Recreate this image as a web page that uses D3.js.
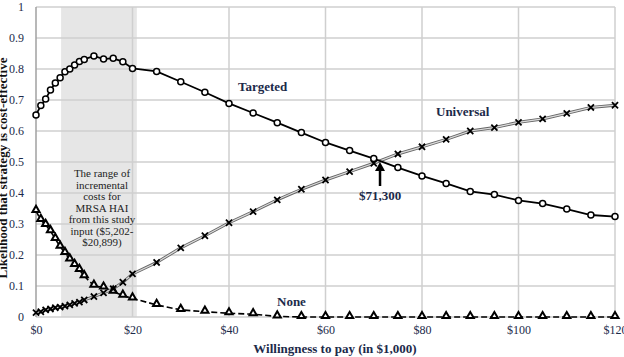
<!DOCTYPE html>
<html>
<head>
<meta charset="utf-8">
<script src="https://cdn.jsdelivr.net/npm/d3@7"></script>
<style>
  html, body { margin: 0; padding: 0; background: #fff; overflow: hidden; }
  svg { display: block; }
  svg text { font-family: "Liberation Serif", "DejaVu Serif", serif !important; }
</style>
</head>
<body>
<script>
// willingness to pay, in $1,000
const wtp = [0, 1, 2, 3, 4, 5, 6, 7, 8, 9, 10, 12, 14, 16, 18, 20,
  25, 30, 35, 40, 45, 50, 55, 60, 65, 70, 75, 80, 85, 90, 95, 100, 105, 110, 115, 120];

const targeted = [0.652, 0.682, 0.703, 0.732, 0.755, 0.772, 0.791, 0.800, 0.813, 0.824, 0.831, 0.842, 0.832, 0.835, 0.823, 0.802,
  0.792, 0.759, 0.725, 0.689, 0.658, 0.627, 0.595, 0.563, 0.537, 0.511, 0.482, 0.455, 0.431, 0.405, 0.395, 0.376, 0.366, 0.348, 0.329, 0.324];

const universal = [0.014, 0.017, 0.023, 0.026, 0.030, 0.032, 0.035, 0.039, 0.044, 0.048, 0.055, 0.066, 0.078, 0.091, 0.112, 0.139,
  0.176, 0.223, 0.262, 0.304, 0.340, 0.378, 0.412, 0.442, 0.469, 0.496, 0.526, 0.549, 0.573, 0.600, 0.611, 0.628, 0.639, 0.657, 0.676, 0.683];

const none = [0.342, 0.313, 0.297, 0.277, 0.252, 0.227, 0.207, 0.186, 0.168, 0.152, 0.132, 0.101, 0.095, 0.082, 0.069, 0.060,
  0.039, 0.023, 0.017, 0.012, 0.009, 0.002, 0, 0, 0, 0, 0, 0, 0, 0, 0, 0, 0, 0, 0, 0];

const xTicks = [0, 20, 40, 60, 80, 100, 120];
const yTicks = [0, 0.1, 0.2, 0.3, 0.4, 0.5, 0.6, 0.7, 0.8, 0.9, 1];

const costRange = [5.202, 20.899];
const rangeNote = ["The range of", "incremental", "costs for", "MRSA HAI", "from this study", "input ($5,202-", "$20,899)"];
const threshold = { wtp: 71.3, label: "$71,300" };

const W = 624, H = 357;
const svg = d3.select("body").append("svg").attr("width", W).attr("height", H);

const x = d3.scaleLinear().domain([0, 120]).range([36, 615]);
const y = d3.scaleLinear().domain([0, 1]).range([317, 7]);

const labelColor = "#1c2a4a";

// shaded band for the cost range
svg.append("rect")
  .attr("x", x(costRange[0])).attr("y", y(1))
  .attr("width", x(costRange[1]) - x(costRange[0]))
  .attr("height", y(0) - y(1))
  .attr("fill", "#e6e6e6");

// grid
const grid = svg.append("g").attr("stroke", "#cfcfcf").attr("stroke-width", 1.5);
grid.selectAll("line.h").data(yTicks).enter().append("line")
  .attr("x1", x(0)).attr("x2", x(120))
  .attr("y1", d => y(d)).attr("y2", d => y(d));
grid.selectAll("line.v").data(xTicks.slice(1)).enter().append("line")
  .attr("y1", y(0)).attr("y2", y(1))
  .attr("x1", d => x(d)).attr("x2", d => x(d));

// left axis line
svg.append("line").attr("x1", x(0)).attr("x2", x(0)).attr("y1", y(0)).attr("y2", y(1))
  .attr("stroke", "#a0a0a0").attr("stroke-width", 1.5);

// tick labels
const yAxis = d3.axisLeft(y).tickValues(yTicks).tickSize(0).tickPadding(12)
  .tickFormat(d => d === 0 || d === 1 ? d3.format("d")(d) : d3.format(".1f")(d));
svg.append("g").attr("transform", `translate(${x(0)},0)`).call(yAxis)
  .call(g => g.select(".domain").remove())
  .call(g => g.selectAll("text").attr("font-size", 12).attr("fill", labelColor));

const xAxis = d3.axisBottom(x).tickValues(xTicks).tickSize(0).tickPadding(8)
  .tickFormat(d => "$" + d);
svg.append("g").attr("transform", `translate(0,${y(0)})`).call(xAxis)
  .call(g => g.select(".domain").remove())
  .call(g => g.selectAll("text").attr("font-size", 12).attr("fill", labelColor));

// axis titles
svg.append("text").attr("x", 335).attr("y", 353).attr("text-anchor", "middle")
  .attr("font-size", 13).attr("font-weight", "bold").attr("fill", labelColor)
  .text("Willingness to pay (in $1,000)");
svg.append("text").attr("transform", "translate(7,168) rotate(-90)").attr("text-anchor", "middle")
  .attr("font-size", 13).attr("font-weight", "bold").attr("fill", "#111")
  .text("Likelihood that strategy is cost-effective");

// series
const pts = vals => wtp.map((w, i) => [w, vals[i]]);
const line = d3.line().x(d => x(d[0])).y(d => y(d[1]));

// None: dashed
svg.append("path").attr("d", line(pts(none))).attr("fill", "none")
  .attr("stroke", "#000").attr("stroke-width", 1.6).attr("stroke-dasharray", "6,3");

// Universal: double-looking grey line
svg.append("path").attr("d", line(pts(universal))).attr("fill", "none")
  .attr("stroke", "#666").attr("stroke-width", 3);
svg.append("path").attr("d", line(pts(universal))).attr("fill", "none")
  .attr("stroke", "#dcdcdc").attr("stroke-width", 1.2);

// Targeted: solid black
svg.append("path").attr("d", line(pts(targeted))).attr("fill", "none")
  .attr("stroke", "#000").attr("stroke-width", 1.8);

// markers
const tri = d3.symbol().type(d3.symbolTriangle).size(22);
svg.append("g").selectAll("path").data(pts(none)).enter().append("path")
  .attr("d", tri).attr("transform", d => `translate(${x(d[0])},${y(d[1]) - 1})`)
  .attr("fill", "#fff").attr("stroke", "#000").attr("stroke-width", 2);

svg.append("g").selectAll("path").data(pts(universal)).enter().append("path")
  .attr("d", d3.symbol().type(d3.symbolX).size(26))
  .attr("transform", d => `translate(${x(d[0])},${y(d[1])})`)
  .attr("fill", "none").attr("stroke", "#000").attr("stroke-width", 1.8);

svg.append("g").selectAll("circle").data(pts(targeted)).enter().append("circle")
  .attr("cx", d => x(d[0])).attr("cy", d => y(d[1])).attr("r", 3)
  .attr("fill", "#fff").attr("stroke", "#000").attr("stroke-width", 1.5);

// series labels
const seriesLabels = [
  { text: "Targeted", x: 238, y: 91 },
  { text: "Universal", x: 436, y: 116 },
  { text: "None", x: 277, y: 306 }
];
svg.append("g").selectAll("text").data(seriesLabels).enter().append("text")
  .attr("x", d => d.x).attr("y", d => d.y)
  .attr("font-size", 13).attr("font-weight", "bold").attr("fill", labelColor)
  .text(d => d.text);

// threshold arrow and label
const ax = x(threshold.wtp);
svg.append("line").attr("x1", ax).attr("x2", ax).attr("y1", 186).attr("y2", 170)
  .attr("stroke", "#000").attr("stroke-width", 2.5);
svg.append("path").attr("d", `M${ax - 5},171 L${ax},162 L${ax + 5},171 Z`).attr("fill", "#000");
svg.append("text").attr("x", 380).attr("y", 200).attr("text-anchor", "middle")
  .attr("font-size", 13).attr("font-weight", "bold").attr("fill", labelColor)
  .text(threshold.label);

// note inside the band
svg.append("g").selectAll("text").data(rangeNote).enter().append("text")
  .attr("x", 102).attr("y", (d, i) => 177 + i * 11.5).attr("text-anchor", "middle")
  .attr("font-size", 11).attr("fill", "#222")
  .text(d => d);
</script>
</body>
</html>
